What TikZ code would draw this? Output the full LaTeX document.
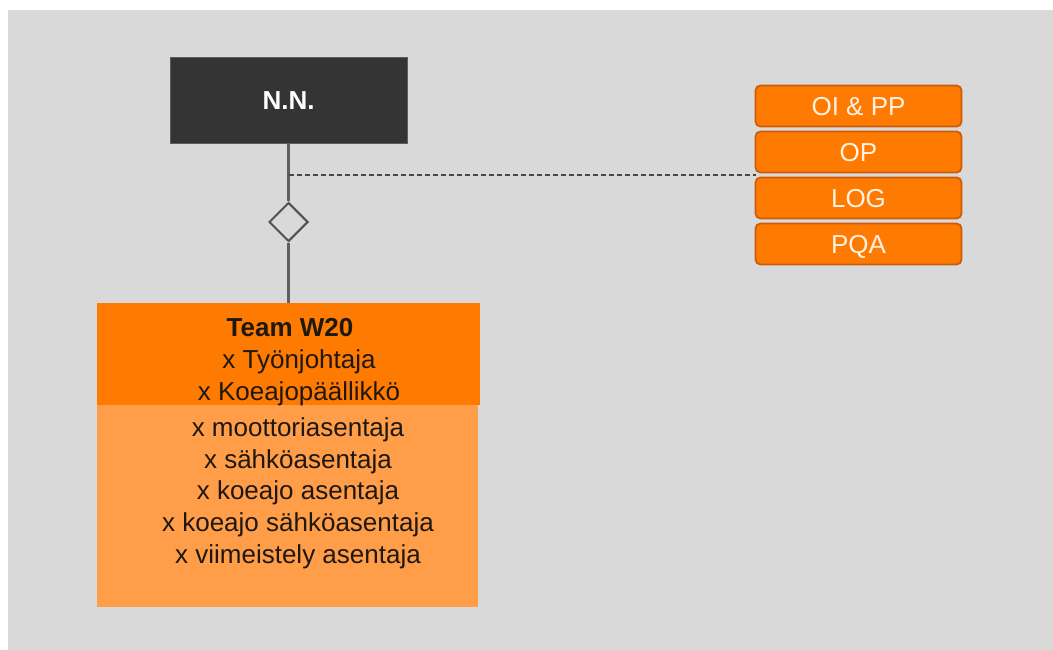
\documentclass[tikz,border=0pt]{standalone}
\usepackage{fontspec}
\setmainfont{Liberation Sans}
\usetikzlibrary{shapes.geometric}

\definecolor{bggray}{RGB}{217,217,217}
\definecolor{darkbox}{RGB}{52,52,52}
\definecolor{orangeA}{RGB}{255,122,0}
\definecolor{orangeB}{RGB}{255,157,72}
\definecolor{orangeEdge}{RGB}{205,92,8}
\definecolor{linegray}{RGB}{95,95,95}
\definecolor{dashgray}{RGB}{70,70,70}
\definecolor{cream}{RGB}{255,242,228}
\definecolor{inkdark}{RGB}{30,24,18}

\begin{document}
\begin{tikzpicture}[x=1pt,y=-1pt,
  big/.style={font=\fontsize{26}{32}\selectfont},
  headbox/.style={big, fill=darkbox, draw=darkbox!80!white, line width=0.8pt,
    minimum width=237pt, minimum height=86pt, inner sep=0pt, text=white,
    text height=18.6pt, text depth=0pt, font=\fontsize{26}{32}\selectfont\bfseries},
  unitbox/.style={big, fill=orangeA, draw=orangeEdge, line width=1.8pt,
    rounded corners=5pt, minimum width=206pt, minimum height=41pt, inner sep=0pt,
    text=cream, text height=18.6pt, text depth=0pt},
  teamhead/.style={fill=orangeA, minimum width=383pt, minimum height=102pt, inner sep=0pt},
  teambody/.style={fill=orangeB, minimum width=381pt, minimum height=202pt, inner sep=0pt},
  member/.style={big, anchor=base, text=inkdark, inner sep=0pt},
  conn/.style={draw=linegray, line width=2.4pt},
  aggr/.style={diamond, aspect=1, draw=linegray!85!black, fill=bggray, line width=2pt,
    minimum width=39pt, minimum height=39pt, inner sep=0pt},
  dashlink/.style={draw=dashgray, line width=1.2pt, dash pattern=on 5pt off 3pt}
]
% canvas
\fill[white] (0,0) rectangle (1053,650);
\useasboundingbox (0,0) rectangle (1053,650);
\fill[bggray] (8,10) rectangle (1053,650);

% team block
\node[teambody] (body) at (287.5,506) {};
\node[teamhead] (head) at (288.5,354) {};

% leader box
\node[headbox] (nn) at (288.5,100) {N.N.};

% support units
\node[unitbox] (oipp) at (858.5,106) {OI \& PP};
\node[unitbox] (op)   at (858.5,152) {OP};
\node[unitbox] (log)  at (858.5,198) {LOG};
\node[unitbox] (pqa)  at (858.5,244) {PQA};

% aggregation link
\node[aggr] (dia) at (288.5,222) {};
\draw[conn] (nn.south) -- (dia.north);
\draw[conn] (dia.south) -- (head.north);

% dashed link to the unit stack
\coordinate (tap) at (288.5,175);
\coordinate (stack) at (755.5,175);
\draw[dashlink] (tap) -- (stack);

% team members
\node[member, font=\fontsize{26}{32}\selectfont\bfseries] (t1) at (290,336) {Team W20};
\node[member] (t2) at (299,368) {x Työnjohtaja};
\node[member] (t3) at (299,400) {x Koeajopäällikkö};
\node[member] (t4) at (298,436) {x moottoriasentaja};
\node[member] (t5) at (298,468) {x sähköasentaja};
\node[member] (t6) at (298,499.5) {x koeajo asentaja};
\node[member] (t7) at (298,531) {x koeajo sähköasentaja};
\node[member] (t8) at (298,563) {x viimeistely asentaja};
\end{tikzpicture}
\end{document}
